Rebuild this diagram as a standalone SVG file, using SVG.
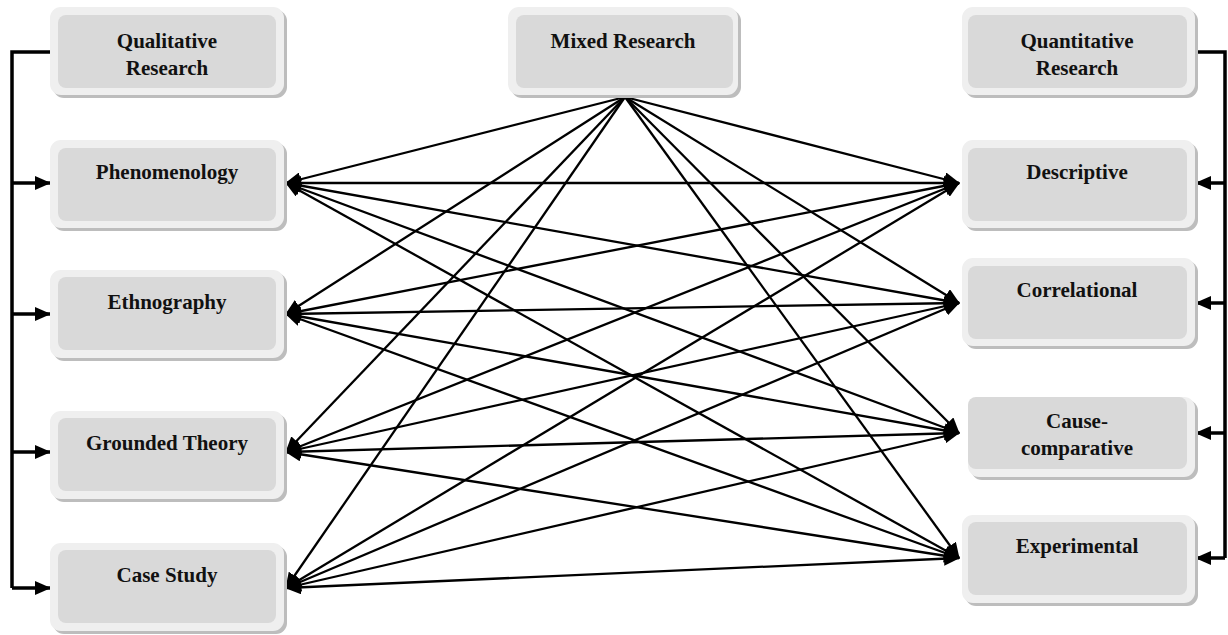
<svg xmlns="http://www.w3.org/2000/svg" width="1228" height="635" viewBox="0 0 1228 635">
<defs>
<style>
.sh{fill:#bdbdbd}
.out{fill:#efefef}
.in{fill:#d9d9d9}
.t{font-family:"Liberation Serif","Times New Roman",serif;font-weight:bold;font-size:21px;fill:#111;text-anchor:middle}
.c{stroke:#000;stroke-width:2.3;fill:none}
.tr{stroke:#000;stroke-width:3.5;fill:none}
</style>
<marker id="ah" viewBox="0 0 16 14" refX="15" refY="7" markerWidth="16" markerHeight="14" markerUnits="userSpaceOnUse" orient="auto-start-reverse">
<path d="M0,0 L16,7 L0,14 z" fill="#000"/>
</marker>
<marker id="ta" viewBox="0 0 16 14" refX="15" refY="7" markerWidth="16" markerHeight="14" markerUnits="userSpaceOnUse" orient="auto">
<path d="M0,0 L16,7 L0,14 z" fill="#000"/>
</marker>
</defs>
<rect width="1228" height="635" fill="#fff"/>

<g id="connectors">
<path class="tr" d="M50,52 H12 V588"/>
<line class="tr" x1="12" y1="183" x2="50" y2="183" marker-end="url(#ta)"/>
<line class="tr" x1="12" y1="314" x2="50" y2="314" marker-end="url(#ta)"/>
<line class="tr" x1="12" y1="452" x2="50" y2="452" marker-end="url(#ta)"/>
<line class="tr" x1="12" y1="588" x2="50" y2="588" marker-end="url(#ta)"/>
<path class="tr" d="M1196,52 H1225 V558"/>
<line class="tr" x1="1225" y1="183" x2="1196" y2="183" marker-end="url(#ta)"/>
<line class="tr" x1="1225" y1="303" x2="1196" y2="303" marker-end="url(#ta)"/>
<line class="tr" x1="1225" y1="433" x2="1196" y2="433" marker-end="url(#ta)"/>
<line class="tr" x1="1225" y1="558" x2="1196" y2="558" marker-end="url(#ta)"/>
<line class="c" x1="625" y1="97" x2="286" y2="183" marker-end="url(#ah)"/>
<line class="c" x1="625" y1="97" x2="286" y2="314" marker-end="url(#ah)"/>
<line class="c" x1="625" y1="97" x2="286" y2="452" marker-end="url(#ah)"/>
<line class="c" x1="625" y1="97" x2="286" y2="588" marker-end="url(#ah)"/>
<line class="c" x1="625" y1="97" x2="959" y2="183" marker-end="url(#ah)"/>
<line class="c" x1="625" y1="97" x2="959" y2="303" marker-end="url(#ah)"/>
<line class="c" x1="625" y1="97" x2="959" y2="433" marker-end="url(#ah)"/>
<line class="c" x1="625" y1="97" x2="959" y2="558" marker-end="url(#ah)"/>
<line class="c" x1="286" y1="183" x2="959" y2="183" marker-start="url(#ah)" marker-end="url(#ah)"/>
<line class="c" x1="286" y1="183" x2="959" y2="303" marker-start="url(#ah)" marker-end="url(#ah)"/>
<line class="c" x1="286" y1="183" x2="959" y2="433" marker-start="url(#ah)" marker-end="url(#ah)"/>
<line class="c" x1="286" y1="183" x2="959" y2="558" marker-start="url(#ah)" marker-end="url(#ah)"/>
<line class="c" x1="286" y1="314" x2="959" y2="183" marker-start="url(#ah)" marker-end="url(#ah)"/>
<line class="c" x1="286" y1="314" x2="959" y2="303" marker-start="url(#ah)" marker-end="url(#ah)"/>
<line class="c" x1="286" y1="314" x2="959" y2="433" marker-start="url(#ah)" marker-end="url(#ah)"/>
<line class="c" x1="286" y1="314" x2="959" y2="558" marker-start="url(#ah)" marker-end="url(#ah)"/>
<line class="c" x1="286" y1="452" x2="959" y2="183" marker-start="url(#ah)" marker-end="url(#ah)"/>
<line class="c" x1="286" y1="452" x2="959" y2="303" marker-start="url(#ah)" marker-end="url(#ah)"/>
<line class="c" x1="286" y1="452" x2="959" y2="433" marker-start="url(#ah)" marker-end="url(#ah)"/>
<line class="c" x1="286" y1="452" x2="959" y2="558" marker-start="url(#ah)" marker-end="url(#ah)"/>
<line class="c" x1="286" y1="588" x2="959" y2="183" marker-start="url(#ah)" marker-end="url(#ah)"/>
<line class="c" x1="286" y1="588" x2="959" y2="303" marker-start="url(#ah)" marker-end="url(#ah)"/>
<line class="c" x1="286" y1="588" x2="959" y2="433" marker-start="url(#ah)" marker-end="url(#ah)"/>
<line class="c" x1="286" y1="588" x2="959" y2="558" marker-start="url(#ah)" marker-end="url(#ah)"/>
</g>

<g id="qualitative">
<rect class="sh" x="53" y="10" width="234" height="88" rx="11"/>
<rect class="out" x="50" y="7" width="234" height="88" rx="11"/>
<rect class="in" x="58" y="15" width="218" height="73" rx="8"/>
<text class="t" x="167" y="48">Qualitative</text>
<text class="t" x="167" y="75">Research</text>
</g>
<g id="phenomenology">
<rect class="sh" x="53" y="143" width="234" height="88" rx="11"/>
<rect class="out" x="50" y="140" width="234" height="88" rx="11"/>
<rect class="in" x="58" y="148" width="218" height="73" rx="8"/>
<text class="t" x="167" y="179">Phenomenology</text>
</g>
<g id="ethnography">
<rect class="sh" x="53" y="273" width="234" height="88" rx="11"/>
<rect class="out" x="50" y="270" width="234" height="88" rx="11"/>
<rect class="in" x="58" y="277" width="218" height="73" rx="8"/>
<text class="t" x="167" y="309">Ethnography</text>
</g>
<g id="grounded">
<rect class="sh" x="53" y="414" width="234" height="88" rx="11"/>
<rect class="out" x="50" y="411" width="234" height="88" rx="11"/>
<rect class="in" x="58" y="418" width="218" height="73" rx="8"/>
<text class="t" x="167" y="450">Grounded Theory</text>
</g>
<g id="casestudy">
<rect class="sh" x="53" y="546" width="234" height="88" rx="11"/>
<rect class="out" x="50" y="543" width="234" height="88" rx="11"/>
<rect class="in" x="58" y="550" width="218" height="73" rx="8"/>
<text class="t" x="167" y="582">Case Study</text>
</g>

<g id="mixed">
<rect class="sh" x="511" y="10" width="230" height="88" rx="11"/>
<rect class="out" x="508" y="7" width="230" height="88" rx="11"/>
<rect class="in" x="516" y="15" width="217" height="73" rx="8"/>
<text class="t" x="623" y="48">Mixed Research</text>
</g>

<g id="quantitative">
<rect class="sh" x="965" y="10" width="233" height="88" rx="11"/>
<rect class="out" x="962" y="7" width="233" height="88" rx="11"/>
<rect class="in" x="968" y="15" width="219" height="73" rx="8"/>
<text class="t" x="1077" y="48">Quantitative</text>
<text class="t" x="1077" y="75">Research</text>
</g>
<g id="descriptive">
<rect class="sh" x="965" y="143" width="233" height="88" rx="11"/>
<rect class="out" x="962" y="140" width="233" height="88" rx="11"/>
<rect class="in" x="968" y="148" width="219" height="73" rx="8"/>
<text class="t" x="1077" y="179">Descriptive</text>
</g>
<g id="correlational">
<rect class="sh" x="965" y="261" width="233" height="88" rx="11"/>
<rect class="out" x="962" y="258" width="233" height="88" rx="11"/>
<rect class="in" x="968" y="266" width="219" height="73" rx="8"/>
<text class="t" x="1077" y="297">Correlational</text>
</g>
<g id="causecomparative">
<rect class="sh" x="971" y="400" width="227" height="80" rx="11"/>
<rect class="out" x="968" y="397" width="227" height="80" rx="11"/>
<rect class="in" x="968" y="397" width="219" height="72" rx="8"/>
<text class="t" x="1077" y="428">Cause-</text>
<text class="t" x="1077" y="455">comparative</text>
</g>
<g id="experimental">
<rect class="sh" x="965" y="518" width="233" height="88" rx="11"/>
<rect class="out" x="962" y="515" width="233" height="88" rx="11"/>
<rect class="in" x="968" y="522" width="219" height="73" rx="8"/>
<text class="t" x="1077" y="553">Experimental</text>
</g>
</svg>
